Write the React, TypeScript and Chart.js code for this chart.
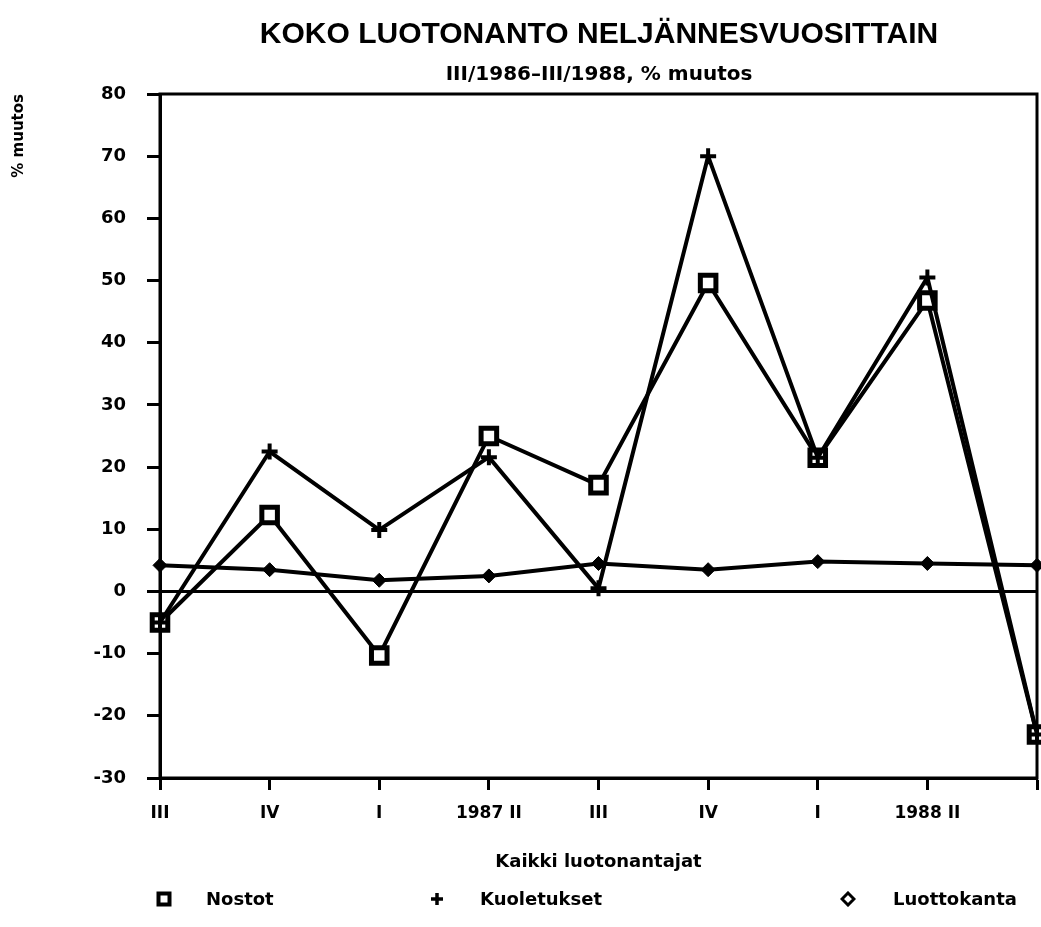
import React, { useEffect, useRef } from 'react';
import { Chart, registerables } from 'chart.js';

Chart.register(...registerables);

const categories = ['III', 'IV', 'I', '1987 II', 'III', 'IV', 'I', '1988 II', 'III'];
const nostot = [-5, 12.3, -10.3, 25, 17.1, 49.6, 21.5, 46.8, -23];
const kuoletukset = [-5, 22.5, 9.9, 21.6, 0.5, 70, 21.5, 50.5, -23];
const luottokanta = [4.2, 3.5, 1.8, 2.5, 4.5, 3.5, 4.8, 4.5, 4.2];
const titleText = 'KOKO LUOTONANTO NELJÄNNESVUOSITTAIN';
const subtitleText = 'III/1986–III/1988, % muutos';
const yTitle = '% muutos';
const xTitle = 'Kaikki luotonantajat';
const seriesNames = ['Nostot', 'Kuoletukset', 'Luottokanta'];

const BOLD = 'DejaVu Sans';

const framePlugin = {
  id: 'frame',
  beforeDatasetsDraw(chart: any) {
    const { ctx, chartArea } = chart;
    ctx.save();
    ctx.strokeStyle = '#000';
    ctx.lineWidth = 3;
    ctx.strokeRect(chartArea.left, chartArea.top, chartArea.right - chartArea.left, chartArea.bottom - chartArea.top);
    ctx.restore();
  },
};

function Marker({ kind }: { kind: string }) {
  if (kind === 'square') {
    return (
      <svg width="16" height="16" style={{ display: 'block' }}>
        <rect x="2.5" y="2.5" width="11" height="11" fill="#fff" stroke="#000" strokeWidth="4" />
      </svg>
    );
  }
  if (kind === 'plus') {
    return (
      <svg width="16" height="16" style={{ display: 'block' }}>
        <line x1="8" y1="2" x2="8" y2="14" stroke="#000" strokeWidth="3.5" />
        <line x1="2" y1="8" x2="14" y2="8" stroke="#000" strokeWidth="3.5" />
      </svg>
    );
  }
  return (
    <svg width="16" height="16" style={{ display: 'block' }}>
      <polygon points="8,2 14,8 8,14 2,8" fill="#fff" stroke="#000" strokeWidth="3" />
    </svg>
  );
}

export default function App() {
  const ref = useRef<HTMLCanvasElement | null>(null);

  useEffect(() => {
    if (!ref.current) return;
    const chart = new Chart(ref.current, {
      type: 'line',
      data: {
        labels: categories,
        datasets: [
          {
            label: seriesNames[2],
            data: luottokanta,
            borderColor: '#000',
            backgroundColor: '#000',
            borderWidth: 4,
            pointStyle: 'rectRot',
            pointRadius: 7,
            pointBorderWidth: 1,
            tension: 0,
            clip: false as any,
          },
          {
            label: seriesNames[1],
            data: kuoletukset,
            borderColor: '#000',
            backgroundColor: '#000',
            borderWidth: 4,
            pointStyle: 'cross',
            pointRadius: 8,
            pointBorderWidth: 4,
            tension: 0,
            clip: false as any,
          },
          {
            label: seriesNames[0],
            data: nostot,
            borderColor: '#000',
            backgroundColor: '#fff',
            borderWidth: 4,
            pointStyle: 'rect',
            pointRadius: 11,
            pointBorderWidth: 5,
            tension: 0,
            clip: false as any,
          },
        ],
      },
      options: {
        responsive: false,
        animation: false,
        layout: { autoPadding: false, padding: { top: 94, right: 4, left: 0, bottom: 0 } },
        plugins: {
          legend: { display: false },
          title: { display: false },
          tooltip: { enabled: false },
        },
        scales: {
          x: {
            type: 'category',
            offset: false,
            border: { display: true, color: '#000', width: 3 },
            grid: {
              drawOnChartArea: false,
              drawTicks: true,
              tickLength: 12,
              tickWidth: 3,
              tickColor: '#000',
            },
            ticks: {
              color: '#000',
              font: { family: BOLD, weight: 'bold', size: 17 },
              padding: 13,
              maxRotation: 0,
              autoSkip: false,
              callback: (_v: any, i: number) => (i === categories.length - 1 ? '' : categories[i]),
            },
            title: {
              display: true,
              text: xTitle,
              color: '#000',
              font: { family: BOLD, weight: 'bold', size: 18 },
              padding: { top: 0, bottom: 54 },
            },
            afterFit: (s: any) => {
              s.height = 149;
              s.paddingLeft = 0;
              s.paddingRight = 0;
            },
          },
          y: {
            min: -30,
            max: 80,
            border: { display: true, color: '#000', width: 3 },
            grid: {
              drawOnChartArea: true,
              drawTicks: true,
              tickLength: 13,
              lineWidth: 3,
              color: (c: any) => (c.tick && c.tick.value === 0 ? '#000' : 'rgba(0,0,0,0)'),
              tickColor: '#000',
              tickWidth: 3,
            },
            ticks: {
              stepSize: 10,
              color: '#000',
              font: { family: BOLD, weight: 'bold', size: 18 },
              padding: 21,
            },
            title: {
              display: true,
              text: yTitle,
              align: 'end',
              color: '#000',
              font: { family: BOLD, weight: 'bold', size: 15 },
              padding: { top: 10, bottom: 0 },
            },
            afterFit: (s: any) => {
              s.width = 160;
            },
          },
        },
      } as any,
      plugins: [framePlugin],
    });
    return () => chart.destroy();
  }, []);

  const legendItems = [
    { kind: 'square', text: seriesNames[0], mx: 156, tx: 206 },
    { kind: 'plus', text: seriesNames[1], mx: 429, tx: 480 },
    { kind: 'diamond', text: seriesNames[2], mx: 840, tx: 893 },
  ];

  return (
    <div style={{ position: 'fixed', left: 0, top: 0, width: 1041, height: 927, background: '#fff' }}>
      <canvas ref={ref} width={1041} height={927} style={{ position: 'absolute', left: 0, top: 0 }} />
      <div
        style={{
          position: 'absolute',
          left: 599,
          top: 33,
          transform: 'translate(-50%, -50%)',
          whiteSpace: 'nowrap',
          fontFamily: 'Liberation Sans',
          fontWeight: 'bold',
          fontSize: 30,
          lineHeight: '34px',
          color: '#000',
        }}
      >
        {titleText}
      </div>
      <div
        style={{
          position: 'absolute',
          left: 599,
          top: 73,
          transform: 'translate(-50%, -50%)',
          whiteSpace: 'nowrap',
          fontFamily: BOLD,
          fontWeight: 'bold',
          fontSize: 20,
          lineHeight: '24px',
          color: '#000',
        }}
      >
        {subtitleText}
      </div>
      {legendItems.map((it) => (
        <React.Fragment key={it.text}>
          <div style={{ position: 'absolute', left: it.mx, top: 891 }}>
            <Marker kind={it.kind} />
          </div>
          <div
            style={{
              position: 'absolute',
              left: it.tx,
              top: 899,
              transform: 'translateY(-50%)',
              whiteSpace: 'nowrap',
              fontFamily: BOLD,
              fontWeight: 'bold',
              fontSize: 18,
              lineHeight: '22px',
              color: '#000',
            }}
          >
            {it.text}
          </div>
        </React.Fragment>
      ))}
    </div>
  );
}
